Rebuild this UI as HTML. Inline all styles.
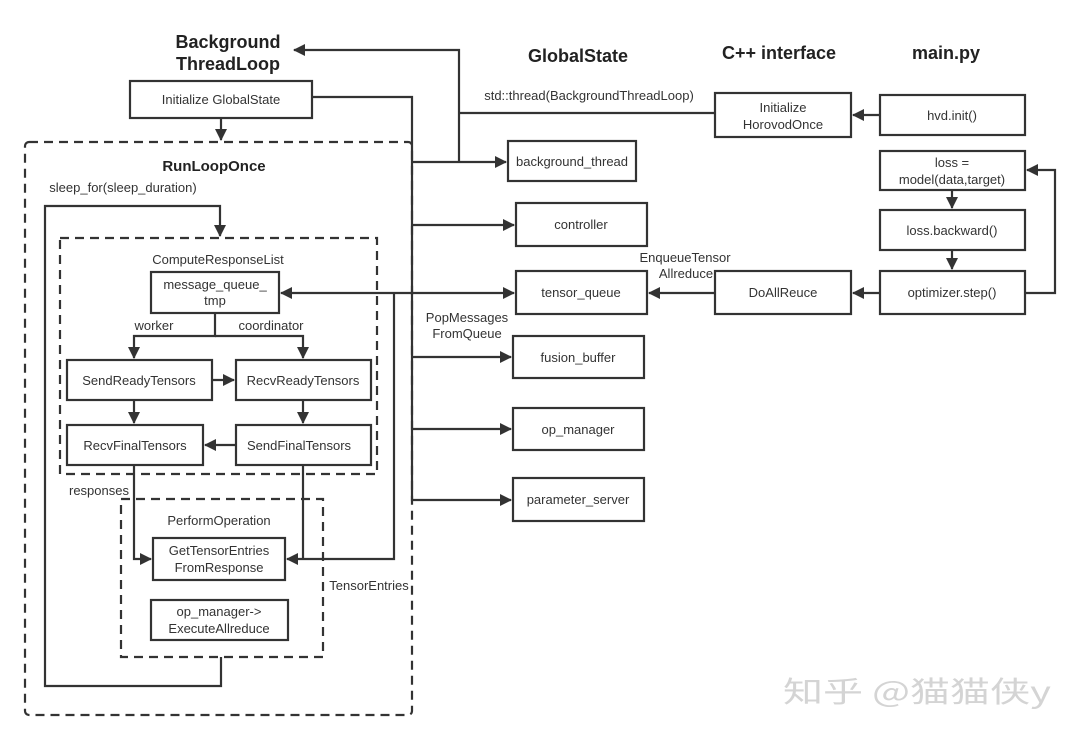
<!DOCTYPE html>
<html><head><meta charset="utf-8"><style>
html,body{margin:0;padding:0;background:#fff;}
svg{display:block;}
text{font-family:"Liberation Sans","Noto Sans CJK SC",sans-serif;fill:#333;}
.b{font-weight:bold;fill:#222;}
</style></head><body>
<svg width="1080" height="741" viewBox="0 0 1080 741" xmlns="http://www.w3.org/2000/svg">
<defs><marker id="a" markerWidth="12" markerHeight="12" refX="11" refY="6" orient="auto" markerUnits="userSpaceOnUse"><path d="M0,0 L12,6 L0,12 z" fill="#333"/></marker></defs>
<g stroke="#333" stroke-width="2.2" fill="none">
<rect x="130" y="81" width="182" height="37"/>
<rect x="715" y="93" width="136" height="44"/>
<rect x="880" y="95" width="145" height="40"/>
<rect x="508" y="141" width="128" height="40"/>
<rect x="516" y="203" width="131" height="43"/>
<rect x="516" y="271" width="131" height="43"/>
<rect x="715" y="271" width="136" height="43"/>
<rect x="880" y="271" width="145" height="43"/>
<rect x="880" y="210" width="145" height="40"/>
<rect x="880" y="151" width="145" height="39"/>
<rect x="513" y="336" width="131" height="42"/>
<rect x="513" y="408" width="131" height="42"/>
<rect x="513" y="478" width="131" height="43"/>
<rect x="151" y="272" width="128" height="41"/>
<rect x="67" y="360" width="145" height="40"/>
<rect x="236" y="360" width="135" height="40"/>
<rect x="67" y="425" width="136" height="40"/>
<rect x="236" y="425" width="135" height="40"/>
<rect x="153" y="538" width="132" height="42"/>
<rect x="151" y="600" width="137" height="40"/>
<g stroke-dasharray="9,6">
<rect x="25" y="142" width="387" height="573" rx="4"/>
<rect x="60" y="238" width="317" height="236"/>
<rect x="121" y="499" width="202" height="158"/>
</g>
<path d="M221,118 V140" marker-end="url(#a)"/>
<path d="M312,97 H412 V500 H511" marker-end="url(#a)"/>
<path d="M412,162 H506" marker-end="url(#a)"/>
<path d="M412,225 H514" marker-end="url(#a)"/>
<path d="M412,293 H514" marker-end="url(#a)"/>
<path d="M412,357 H511" marker-end="url(#a)"/>
<path d="M412,429 H511" marker-end="url(#a)"/>
<path d="M459,162 V50 H294" marker-end="url(#a)"/>
<path d="M715,113 H459"/>
<path d="M880,115 H853" marker-end="url(#a)"/>
<path d="M880,293 H853" marker-end="url(#a)"/>
<path d="M715,293 H649" marker-end="url(#a)"/>
<path d="M952,190 V208" marker-end="url(#a)"/>
<path d="M952,250 V269" marker-end="url(#a)"/>
<path d="M1025,293 H1055 V170 H1027" marker-end="url(#a)"/>
<path d="M412,293 H281" marker-end="url(#a)"/>
<path d="M394,293 V559 H287" marker-end="url(#a)"/>
<path d="M303,465 V559"/>
<path d="M134,465 V559 H151" marker-end="url(#a)"/>
<path d="M215,313 V336 H134 V358" marker-end="url(#a)"/>
<path d="M215,336 H303 V358" marker-end="url(#a)"/>
<path d="M212,380 H234" marker-end="url(#a)"/>
<path d="M134,400 V423" marker-end="url(#a)"/>
<path d="M303,400 V423" marker-end="url(#a)"/>
<path d="M236,445 H205" marker-end="url(#a)"/>
<path d="M221,657 V686 H45 V206 H220 V236" marker-end="url(#a)"/>
</g>
<g font-size="18" text-anchor="middle">
<text class="b" x="228" y="48">Background</text>
<text class="b" x="228" y="70">ThreadLoop</text>
<text class="b" x="578" y="62">GlobalState</text>
<text class="b" x="779" y="59">C++ interface</text>
<text class="b" x="946" y="59">main.py</text>
<text class="b" x="214" y="171" font-size="15">RunLoopOnce</text>
</g>
<g font-size="13" text-anchor="middle">
<text x="221" y="104">Initialize GlobalState</text>
<text x="783" y="112">Initialize</text>
<text x="783" y="129">HorovodOnce</text>
<text x="952" y="120">hvd.init()</text>
<text x="572" y="166">background_thread</text>
<text x="581" y="229">controller</text>
<text x="581" y="297">tensor_queue</text>
<text x="783" y="297">DoAllReuce</text>
<text x="952" y="297">optimizer.step()</text>
<text x="952" y="235">loss.backward()</text>
<text x="952" y="167">loss =</text>
<text x="952" y="184">model(data,target)</text>
<text x="578" y="362">fusion_buffer</text>
<text x="578" y="434">op_manager</text>
<text x="578" y="504">parameter_server</text>
<text x="589" y="100">std::thread(BackgroundThreadLoop)</text>
<text x="685" y="262">EnqueueTensor</text>
<text x="686" y="278">Allreduce</text>
<text x="467" y="322">PopMessages</text>
<text x="467" y="338">FromQueue</text>
<text x="218" y="264">ComputeResponseList</text>
<text x="215" y="289">message_queue_</text>
<text x="215" y="305">tmp</text>
<text x="154" y="330">worker</text>
<text x="271" y="330">coordinator</text>
<text x="139" y="385">SendReadyTensors</text>
<text x="303" y="385">RecvReadyTensors</text>
<text x="135" y="450">RecvFinalTensors</text>
<text x="299" y="450">SendFinalTensors</text>
<text x="99" y="495">responses</text>
<text x="219" y="525">PerformOperation</text>
<text x="219" y="555">GetTensorEntries</text>
<text x="219" y="572">FromResponse</text>
<text x="219" y="616">op_manager-&gt;</text>
<text x="219" y="633">ExecuteAllreduce</text>
<text x="369" y="590">TensorEntries</text>
<text x="123" y="192">sleep_for(sleep_duration)</text>
</g>
<text x="783" y="702" font-size="29" textLength="268" lengthAdjust="spacingAndGlyphs" style="fill:#d4d4d4;font-family:'Noto Sans CJK SC',sans-serif">知乎 @猫猫侠y</text>
</svg>
</body></html>
